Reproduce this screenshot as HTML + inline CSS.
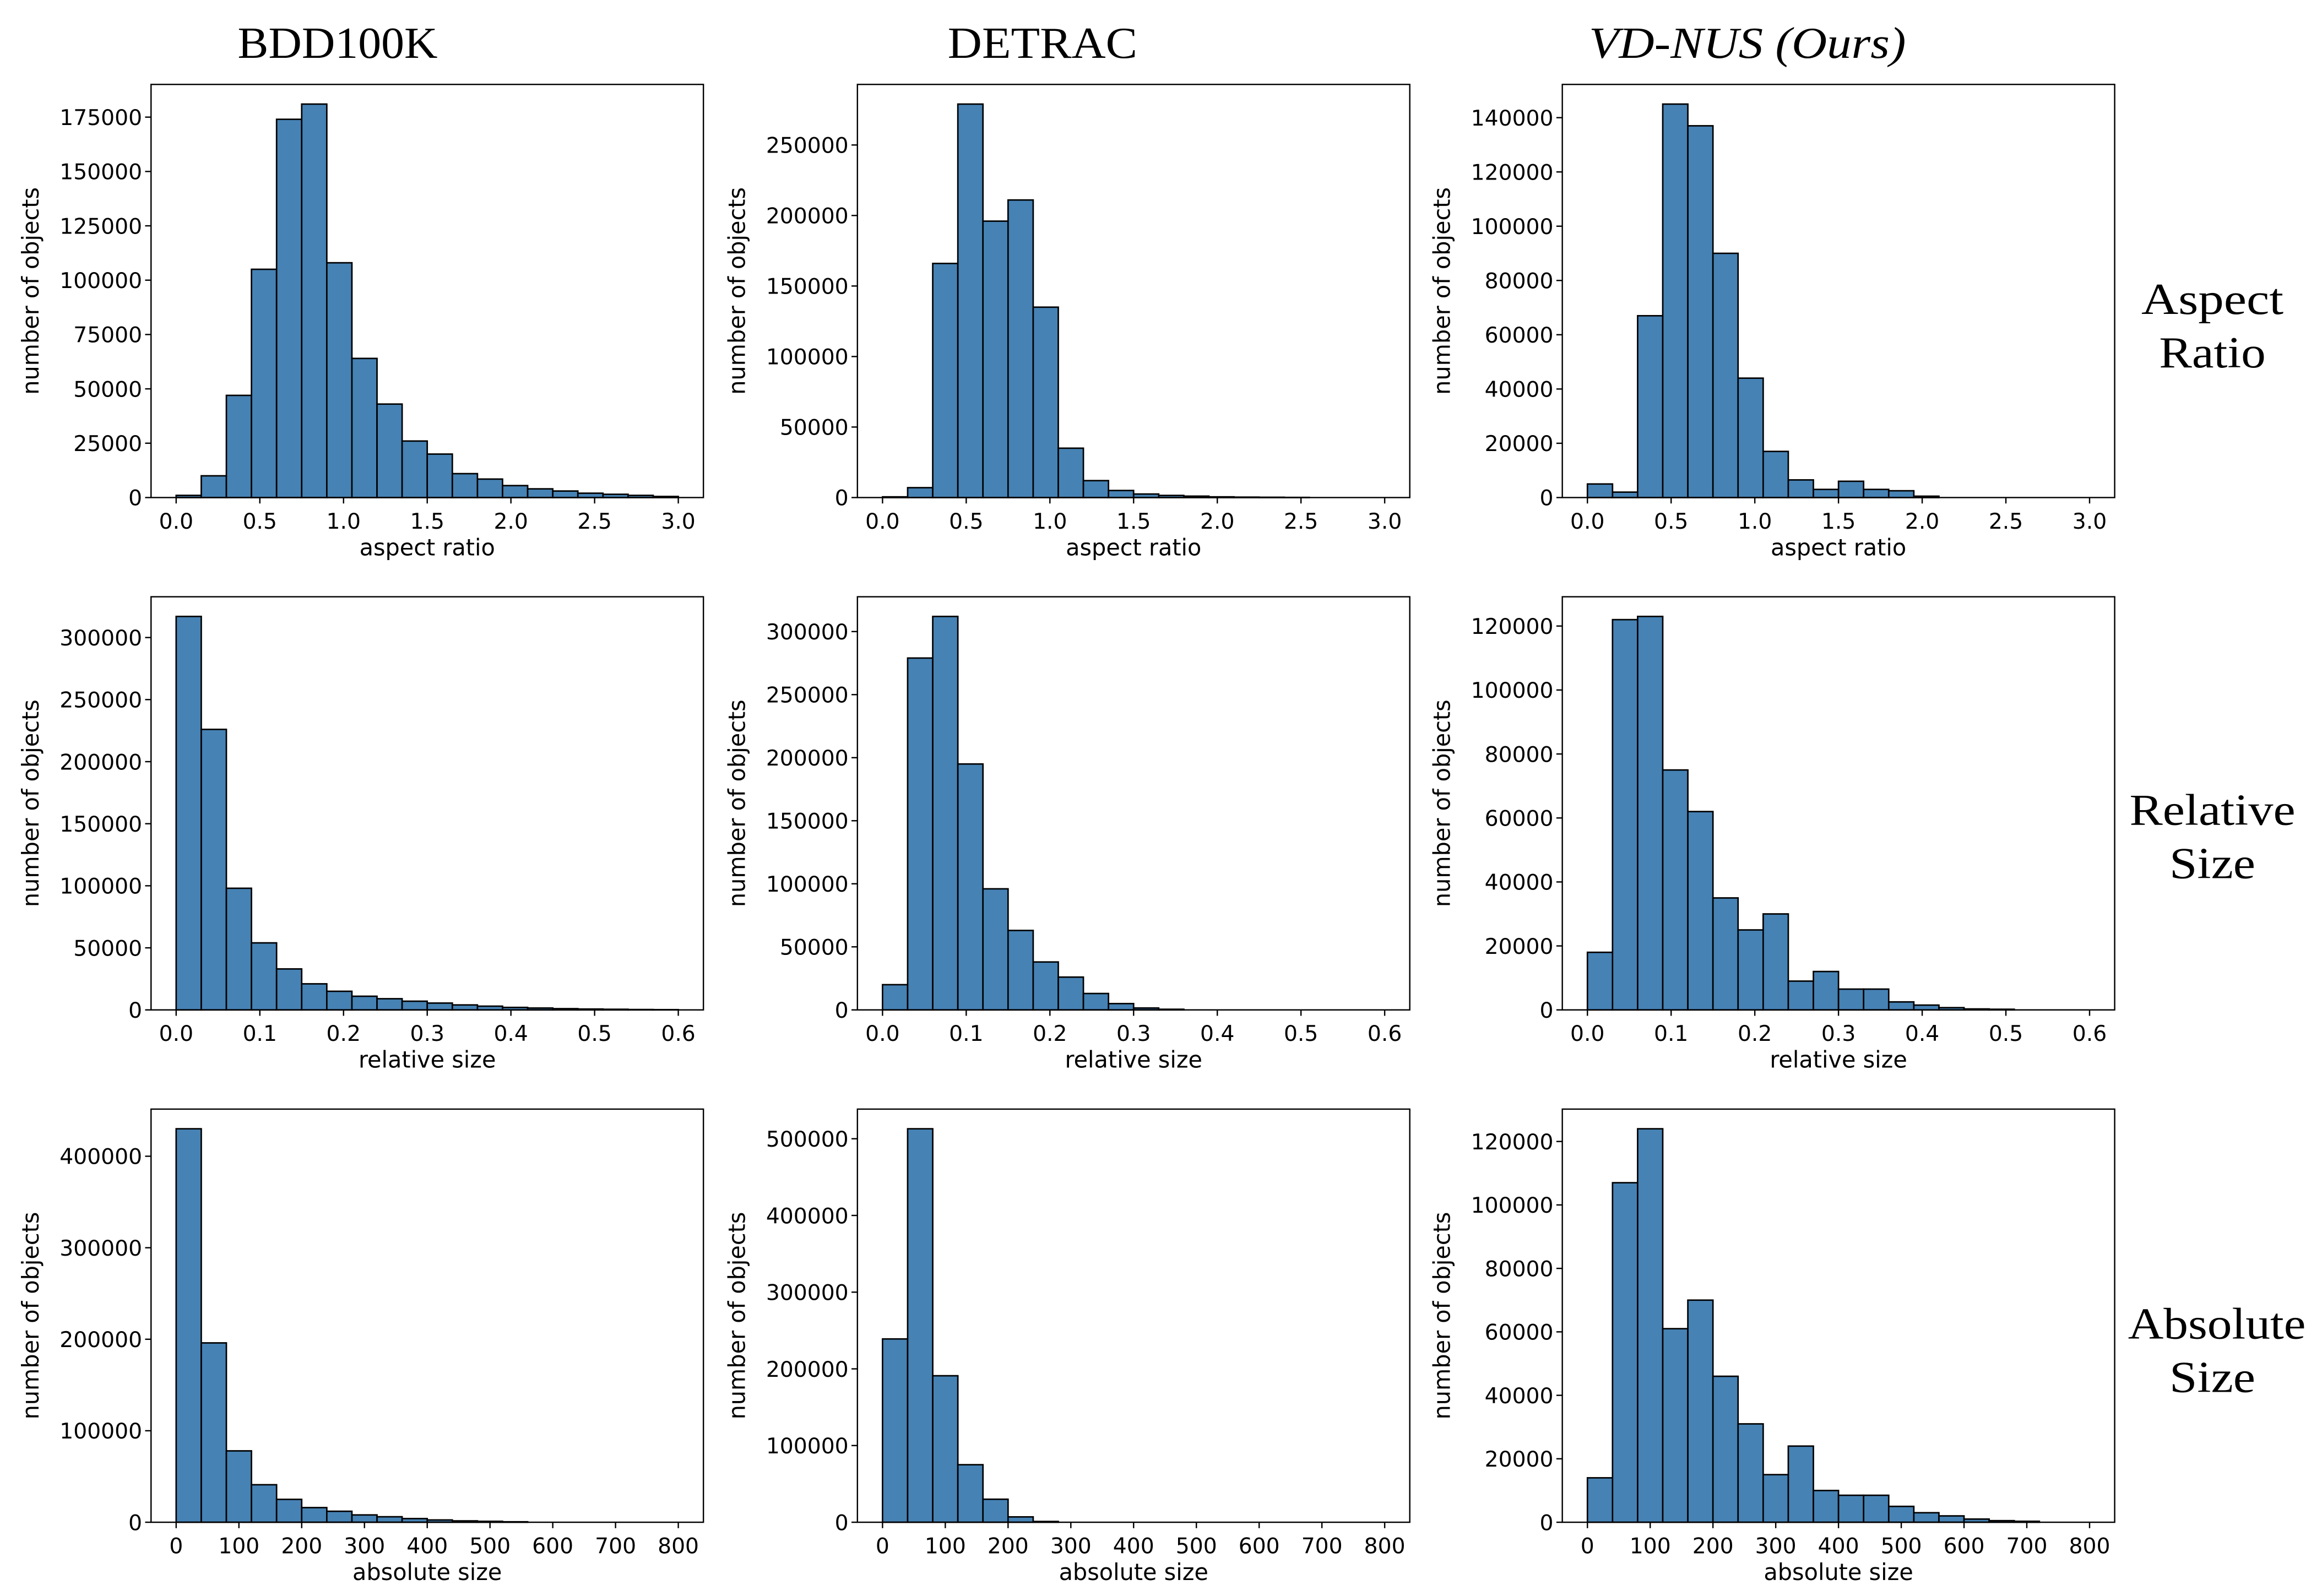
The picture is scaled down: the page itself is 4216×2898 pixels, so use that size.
<!DOCTYPE html>
<html><head><meta charset="utf-8"><style>
html,body{margin:0;padding:0;background:#fff;}
svg{display:block;}
.tick{font-family:"DejaVu Sans","Liberation Sans",sans-serif;font-size:14.6px;fill:#000;}
.lab{font-family:"DejaVu Sans","Liberation Sans",sans-serif;font-size:15.4px;fill:#000;}
.ttl{font-family:"Liberation Serif",serif;font-size:30px;fill:#000;}
</style></head><body>
<svg id="fig" width="4216" height="2898" viewBox="0 0 1568 1077.8" xmlns="http://www.w3.org/2000/svg">
<text class="ttl" x="228" y="39" text-anchor="middle" textLength="135" lengthAdjust="spacingAndGlyphs">BDD100K</text>
<text class="ttl" x="704" y="39" text-anchor="middle" textLength="128" lengthAdjust="spacingAndGlyphs">DETRAC</text>
<text class="ttl" x="1180" y="39" text-anchor="middle" font-style="italic" textLength="214" lengthAdjust="spacingAndGlyphs">VD-NUS (Ours)</text>
<text class="ttl" x="1494" y="212" text-anchor="middle" textLength="96" lengthAdjust="spacingAndGlyphs">Aspect</text>
<text class="ttl" x="1494" y="248" text-anchor="middle" textLength="72" lengthAdjust="spacingAndGlyphs">Ratio</text>
<text class="ttl" x="1494" y="557" text-anchor="middle" textLength="112" lengthAdjust="spacingAndGlyphs">Relative</text>
<text class="ttl" x="1494" y="593" text-anchor="middle" textLength="58" lengthAdjust="spacingAndGlyphs">Size</text>
<text class="ttl" x="1497" y="904" text-anchor="middle" textLength="120" lengthAdjust="spacingAndGlyphs">Absolute</text>
<text class="ttl" x="1494" y="940" text-anchor="middle" textLength="58" lengthAdjust="spacingAndGlyphs">Size</text>
</svg>
<script>
const arBdd=[1000,10000,47000,105000,174000,181000,108000,64000,43000,26000,20000,11000,8500,5500,4000,3000,2000,1500,1000,500];
const arDet=[500,7000,166000,279000,196000,211000,135000,35000,12000,5000,2500,1500,1000,500,300,200,100,0,0,0];
const arVd=[5000,2000,67000,145000,137000,90000,44000,17000,6500,3000,6000,3000,2500,500,0,0,0,0,0,0];
const rsBdd=[317000,226000,98000,54000,33000,21000,15000,11000,9000,7000,5500,4000,3000,2000,1500,1000,700,500,300,200];
const rsDet=[20000,279000,312000,195000,96000,63000,38000,26000,13000,5000,1500,500,0,0,0,0,0,0,0,0];
const rsVd=[18000,122000,123000,75000,62000,35000,25000,30000,9000,12000,6500,6500,2500,1500,700,300,200,0,0,0];
const asBdd=[430000,196000,78000,41000,25000,16000,12000,8000,6000,4000,2500,1500,1000,500,0,0,0,0,0,0];
const asDet=[239000,513000,191000,75000,30000,7000,1000,0,0,0,0,0,0,0,0,0,0,0,0,0];
const asVd=[14000,107000,124000,61000,70000,46000,31000,15000,24000,10000,8500,8500,5000,3000,2000,1000,500,300,0,0];
const xTicksAR=[0,0.5,1,1.5,2,2.5,3];
const xTicksRS=[0,0.1,0.2,0.3,0.4,0.5,0.6];
const xTicksAS=[0,100,200,300,400,500,600,700,800];
const xLabels=["aspect ratio","relative size","absolute size"];
const xMax=[3,0.6,800];
const yStep=[[25000,50000,20000],[50000,50000,20000],[100000,100000,20000]];
const series=[[arBdd,arDet,arVd],[rsBdd,rsDet,rsVd],[asBdd,asDet,asVd]];
const xTickSets=[xTicksAR,xTicksRS,xTicksAS];
const colNames=["bdd100k","detrac","vd-nus"];
const rowNames=["aspect-ratio","relative-size","absolute-size"];

const NS="http://www.w3.org/2000/svg";
const svg=document.getElementById('fig');
function mk(tag,attrs,parent){const e=document.createElementNS(NS,tag);for(const k in attrs)e.setAttribute(k,attrs[k]);(parent||svg).appendChild(e);return e;}
const colX=[102,579,1055], W=373, rowY=[57,403,749], H=279;
function fmtX(v,r){ if(r===2) return String(v); return v.toFixed(1); }
for(let r=0;r<3;r++){for(let c=0;c<3;c++){
  const data=series[r][c]; const L=colX[c], T=rowY[r], B=T+H;
  const xm=xMax[r], pad=xm*0.05;
  const xs=v=>L+(v+pad)/(xm+2*pad)*W;
  const ymax=Math.max(...data)*1.05;
  const ys=v=>B-v/ymax*H;
  const g=mk('g',{});
  
  
  const bw=xm/data.length;
  data.forEach((v,i)=>{
    const x0=xs(i*bw), x1=xs((i+1)*bw);
    const rect=mk('rect',{x:x0,y:ys(v),width:x1-x0,height:B-ys(v),fill:'#4682b4',stroke:'#000','stroke-width':1},g);
    
    
  });
  const frame=mk('rect',{x:L,y:T,width:W,height:H,fill:'none',stroke:'#000','stroke-width':0.9},g);
  
  
  xTickSets[r].forEach(t=>{
    const x=xs(t);
    mk('line',{x1:x,x2:x,y1:B,y2:B+4,stroke:'#000','stroke-width':0.9},g);
    const tx=mk('text',{x:x,y:B+21,'text-anchor':'middle',class:'tick'},g);
    tx.textContent=fmtX(t,r);
    
    
  });
  const st=yStep[r][c];
  for(let v=0;v<=ymax;v+=st){
    const y=ys(v);
    mk('line',{x1:L-4,x2:L,y1:y,y2:y,stroke:'#000','stroke-width':0.9},g);
    const ty=mk('text',{x:L-6,y:y+5.3,'text-anchor':'end',class:'tick'},g);
    ty.textContent=String(v);
    
    
  }
  const xl=mk('text',{x:L+W/2,y:B+39,'text-anchor':'middle',class:'lab'},g);
  xl.textContent=xLabels[r];
  
  
  const yx=L-76, yc=T+H/2;
  const yl=mk('text',{x:yx,y:yc,'text-anchor':'middle',class:'lab',transform:'rotate(-90 '+yx+' '+yc+')'},g);
  yl.textContent='number of objects';
  
  
}}
</script>
</body></html>
